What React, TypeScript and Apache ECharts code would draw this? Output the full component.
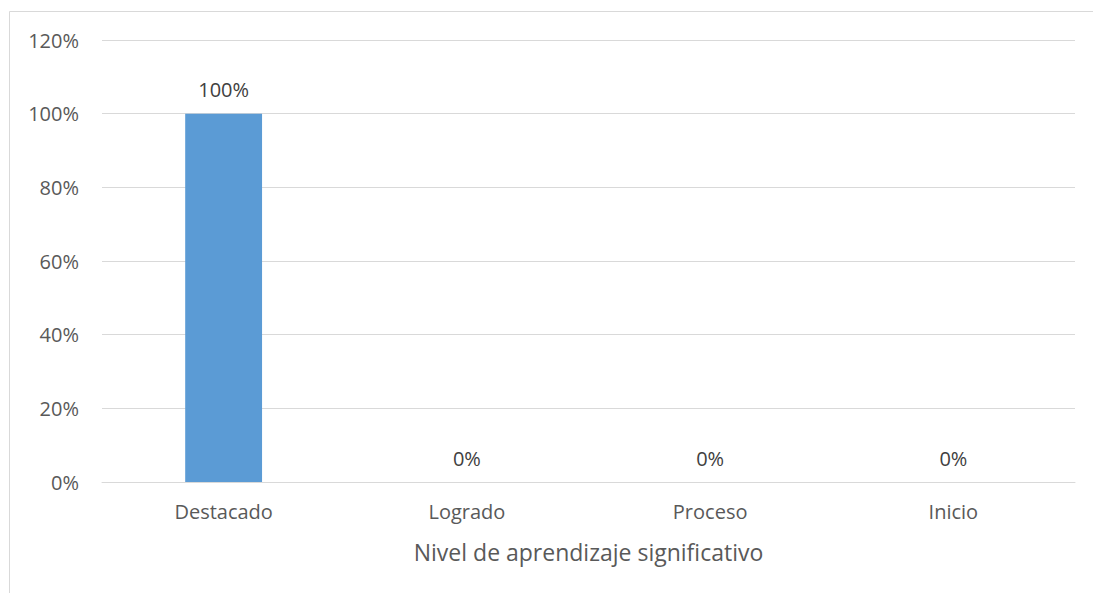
import React, { useEffect, useRef } from "react";
import * as echarts from "echarts";

const categories = ["Destacado", "Logrado", "Proceso", "Inicio"];
const values = [100, 0, 0, 0];
const axisTitle = "Nivel de aprendizaje significativo";

export default function App() {
  const ref = useRef<HTMLDivElement>(null);
  useEffect(() => {
    const chart = echarts.init(ref.current!, null, { renderer: "svg" });
    const font = "'Open Sans', sans-serif";
    chart.setOption({
      animation: false,
      textStyle: { fontFamily: font },
      graphic: [
        {
          type: "rect",
          shape: { x: 9.5, y: 11.5, width: 1200, height: 700 },
          style: { fill: "none", stroke: "#d9d9d9", lineWidth: 1 },
          silent: true,
        },
      ],
      grid: { left: 102, right: 18, top: 40, bottom: 111, containLabel: false },
      xAxis: {
        type: "category",
        data: categories,
        axisLine: { show: true, lineStyle: { color: "#d9d9d9", width: 1 } },
        axisTick: { show: false },
        axisLabel: { color: "#595959", fontSize: 20, margin: 19, fontFamily: font },
        name: axisTitle,
        nameLocation: "middle",
        nameGap: 58,
        nameTextStyle: { color: "#595959", fontSize: 23, fontFamily: font },
      },
      yAxis: {
        type: "value",
        min: 0,
        max: 120,
        interval: 20,
        axisLine: { show: false },
        axisTick: { show: false },
        splitLine: { lineStyle: { color: "#d9d9d9", width: 1 } },
        axisLabel: {
          color: "#595959",
          fontSize: 20,
          margin: 23,
          fontFamily: font,
          formatter: (v: number) => `${v}%`,
        },
      },
      series: [
        {
          type: "bar",
          data: values,
          barWidth: "31.6%",
          itemStyle: { color: "#5B9BD5" },
          label: {
            show: true,
            position: "top",
            distance: 14,
            color: "#404040",
            fontSize: 20,
            fontFamily: font,
            formatter: (p: any) => `${p.value}%`,
          },
        },
      ],
    });
    return () => chart.dispose();
  }, []);
  return (
    <div
      style={{
        position: "fixed",
        left: 0,
        top: 0,
        width: 1093,
        height: 593,
        background: "#fff",
      }}
    >
      <div ref={ref} style={{ width: 1093, height: 593 }} />
    </div>
  );
}
